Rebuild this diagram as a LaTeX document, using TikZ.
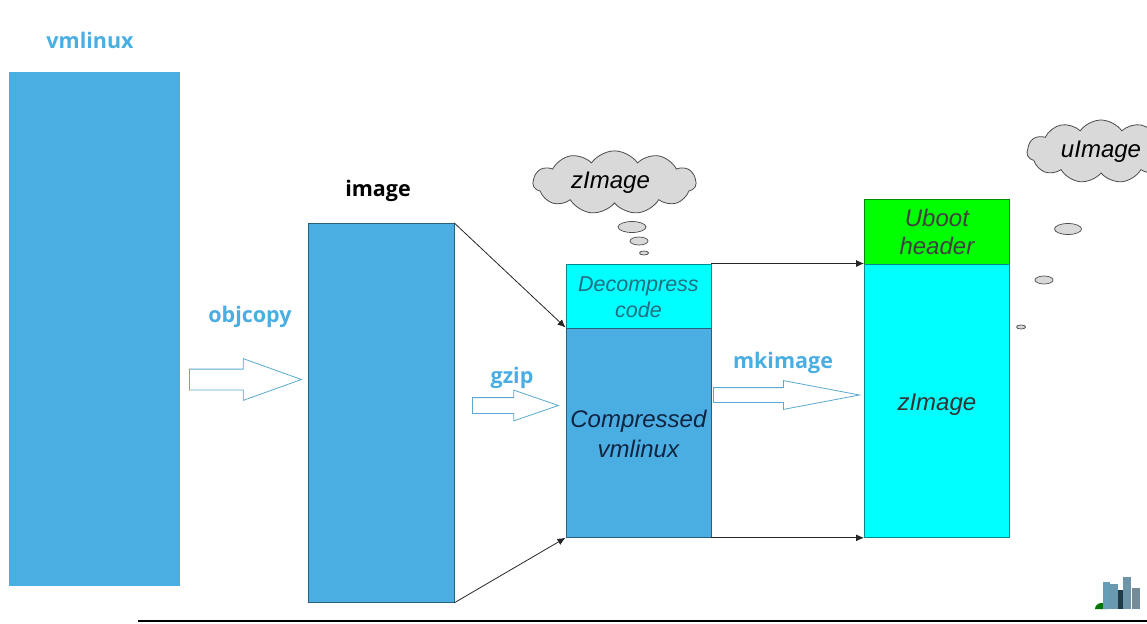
\documentclass[tikz,border=0pt]{standalone}
\usepackage{fontspec}
\setmainfont{Liberation Sans}
\newfontfamily\headfont{Open Sans}
\usetikzlibrary{arrows.meta,shapes.arrows,shapes.symbols,shapes.geometric}
\definecolor{blockblue}{HTML}{4AAEE3}
\definecolor{arrowblue}{HTML}{5AA9CF}
\definecolor{puffgray}{HTML}{D9D9D9}
\definecolor{brightcyan}{HTML}{00FFFF}
\definecolor{brightgreen}{HTML}{00FF00}
\definecolor{decotext}{HTML}{1F6F80}
\definecolor{comptext}{HTML}{0F2440}
\tikzset{
	blockbox/.style={draw=#1!55!black,line width=0.8pt,inner sep=0pt,anchor=north west,align=center,font=\itshape\fontsize{24}{30}\selectfont},
	headlabel/.style={font=\headfont\bfseries\fontsize{21.5}{25}\selectfont,text=blockblue,inner sep=0pt},
	linkarrow/.style={-{Latex[length=8pt,width=7pt]},line width=0.8pt,black!85},
	bigarrow/.style={draw=arrowblue,line width=0.8pt,fill=white,shape=single arrow,inner sep=0pt,single arrow head indent=0pt,anchor=tail},
	thought/.style={draw=black!70,line width=0.8pt,fill=puffgray,shape=cloud,cloud puffs=11,cloud puff arc=110,aspect=2.6,inner sep=0pt,font=\itshape\fontsize{24}{28}\selectfont},
	puff/.style={draw=black!70,line width=0.7pt,fill=puffgray,shape=ellipse,inner sep=0pt}
}
\begin{document}
\begin{tikzpicture}[x=1pt,y=-1pt]
	\useasboundingbox (0,0) rectangle (1147,623);
	
	% Blocks
	\node[blockbox=blockblue,draw=none,fill=blockblue,minimum width=171pt,minimum height=514pt] (vmlinux) at (9,72) {};
	\node[blockbox=blockblue,fill=blockblue,minimum width=145.5pt,minimum height=379pt] (image) at (308,223) {};
	\node[blockbox=brightcyan,fill=brightcyan,text=decotext,font=\itshape\fontsize{21.5}{26}\selectfont,minimum width=145pt,minimum height=64pt] (decompress) at (565.5,263.5) {\rule{0pt}{18pt}Decompress\\code};
	\node[blockbox=blockblue,fill=blockblue,text=comptext,minimum width=145pt,minimum height=209.5pt] (compressed) at (565.5,327.5) {\rule{0pt}{20pt}Compressed\\vmlinux};
	\node[blockbox=brightgreen,fill=brightgreen,text=black!75,font=\itshape\fontsize{24}{28}\selectfont,minimum width=145pt,minimum height=64.5pt] (uboot) at (864,199) {Uboot\\header};
	\node[blockbox=brightcyan,fill=brightcyan,text=black!80,text height=24pt,text depth=5pt,minimum width=145pt,minimum height=273.5pt] (zimage) at (864,263.5) {zImage};
	
	% Links
	\draw[linkarrow] (image.north east) -- (compressed.north west);
	\draw[linkarrow] (image.south east) -- (compressed.south west);
	\draw[linkarrow] (decompress.north east) -- (zimage.north west);
	\draw[linkarrow] (compressed.south east) -- (zimage.south west);
	
	% Block arrows
	\node[bigarrow,text height=20pt,minimum height=112pt,single arrow head extend=10.5pt,single arrow tip angle=39.5] (objarrow) at (189,379.5) {};
	\node[bigarrow,text height=15pt,minimum height=86pt,single arrow head extend=7.5pt,single arrow tip angle=38] (gziparrow) at (472,405.5) {};
	\node[bigarrow,text height=14pt,minimum height=146pt,single arrow head extend=7pt,single arrow tip angle=21.5] (mkarrow) at (713,395) {};
	
	% Labels
	\node[headlabel] (vmlinuxlabel) at (90,40) {vmlinux};
	\node[headlabel,text=black] (imagelabel) at (378,191) {image};
	\node[headlabel] (objlabel) at (250,317) {objcopy};
	\node[headlabel] (gziplabel) at (512,378) {gzip};
	\node[headlabel] (mklabel) at (783,363) {mkimage};
	
	% Clouds
	\node[thought,minimum width=163pt,minimum height=61pt] (zcloud) at (614.5,182.5) {zImage\rule{8pt}{0pt}};
	\node[puff,minimum width=28pt,minimum height=11pt] (zpuffa) at (632,227) {};
	\node[puff,minimum width=18pt,minimum height=8pt] (zpuffb) at (639,241) {};
	\node[puff,minimum width=9pt,minimum height=4pt] (zpuffc) at (644,253) {};
	\node[thought,minimum width=148pt,minimum height=63pt] (ucloud) at (1101,151.5) {uImage};
	\node[puff,minimum width=27pt,minimum height=11pt] (upuffa) at (1068,229) {};
	\node[puff,minimum width=18pt,minimum height=8pt] (upuffb) at (1044,280) {};
	\node[puff,minimum width=9pt,minimum height=4pt] (upuffc) at (1021,327) {};
	
	% Footer line and towers
	\draw[line width=2pt] (138,621) -- (1147,621);
	\fill[green!45!black] (1095,609) arc (180:360:6.5 and 6) -- cycle;
	\fill[arrowblue!70!gray] (1103,582) rectangle (1110,609);
	\fill[arrowblue!60!gray] (1110,584) rectangle (1118,609);
	\fill[black!65!arrowblue] (1118,590) rectangle (1123,609);
	\fill[arrowblue!50!gray] (1123,577) rectangle (1131,609);
	\fill[gray!70!arrowblue] (1132,588) rectangle (1140,609);
\end{tikzpicture}
\end{document}
